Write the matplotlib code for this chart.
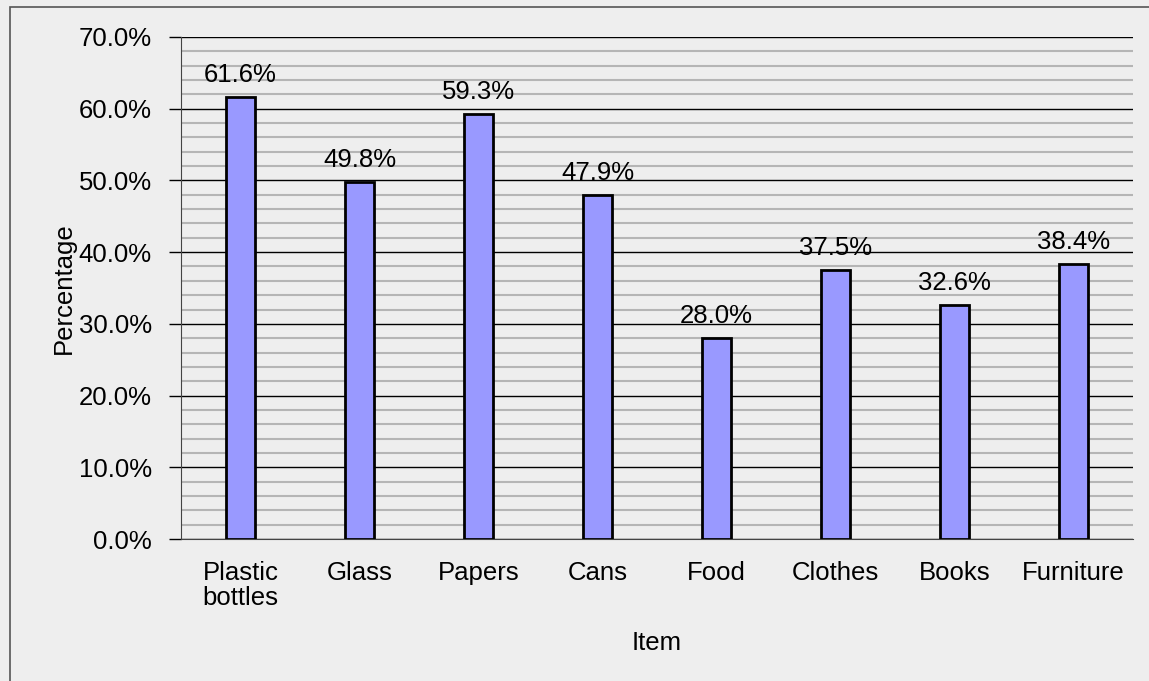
import matplotlib.pyplot as plt
from matplotlib.patches import Rectangle
from matplotlib.ticker import MultipleLocator, FuncFormatter

# recycling rate by item
items = ['Plastic\nbottles', 'Glass', 'Papers', 'Cans', 'Food', 'Clothes', 'Books', 'Furniture']
values = [61.6, 49.8, 59.3, 47.9, 28.0, 37.5, 32.6, 38.4]

plt.rcParams['font.family'] = ['Liberation Sans', 'DejaVu Sans']
plt.rcParams['font.size'] = 18.5

fig = plt.figure(figsize=(11.49, 6.81), dpi=100, facecolor='#eeeeee')
ax = fig.add_axes([0.1575, 0.2085, 0.8285, 0.7372])
ax.set_facecolor('#eeeeee')

# outer frame of the chart
fig.patches.append(Rectangle((0.009, -0.05), 1.1, 1.04, transform=fig.transFigure,
                             fill=False, edgecolor='#555555', lw=1.2))

x = range(len(items))
ax.bar(x, values, width=0.25, color='#9999ff', edgecolor='black', linewidth=2, zorder=3)
for i, v in zip(x, values):
    ax.text(i, v + 2.1, f'{v:.1f}%', ha='center', va='baseline')

ax.set_xlim(-0.5, len(items) - 0.5)
ax.set_ylim(0, 70)
ax.yaxis.set_major_locator(MultipleLocator(10))
ax.yaxis.set_minor_locator(MultipleLocator(2))
ax.yaxis.set_major_formatter(FuncFormatter(lambda v, p: f'{v:.1f}%'))
ax.grid(which='major', axis='y', color='black', lw=1, zorder=1)
ax.grid(which='minor', axis='y', color='#b5b5b5', lw=1.5, zorder=0)

ax.set_xticks(list(x))
ax.set_xticklabels(items, va='top', linespacing=1.05)
ax.tick_params(axis='x', length=0, pad=16)
ax.tick_params(axis='y', which='major', length=9, width=1, pad=12)
ax.tick_params(axis='y', which='minor', length=0)

for s in ['top', 'right']:
    ax.spines[s].set_visible(False)
ax.spines['left'].set_color('#444444')
ax.spines['bottom'].set_color('#444444')

ax.set_xlabel('Item', labelpad=15)
ax.set_ylabel('Percentage', labelpad=2)

plt.savefig('out.png', dpi=100, facecolor=fig.get_facecolor())
